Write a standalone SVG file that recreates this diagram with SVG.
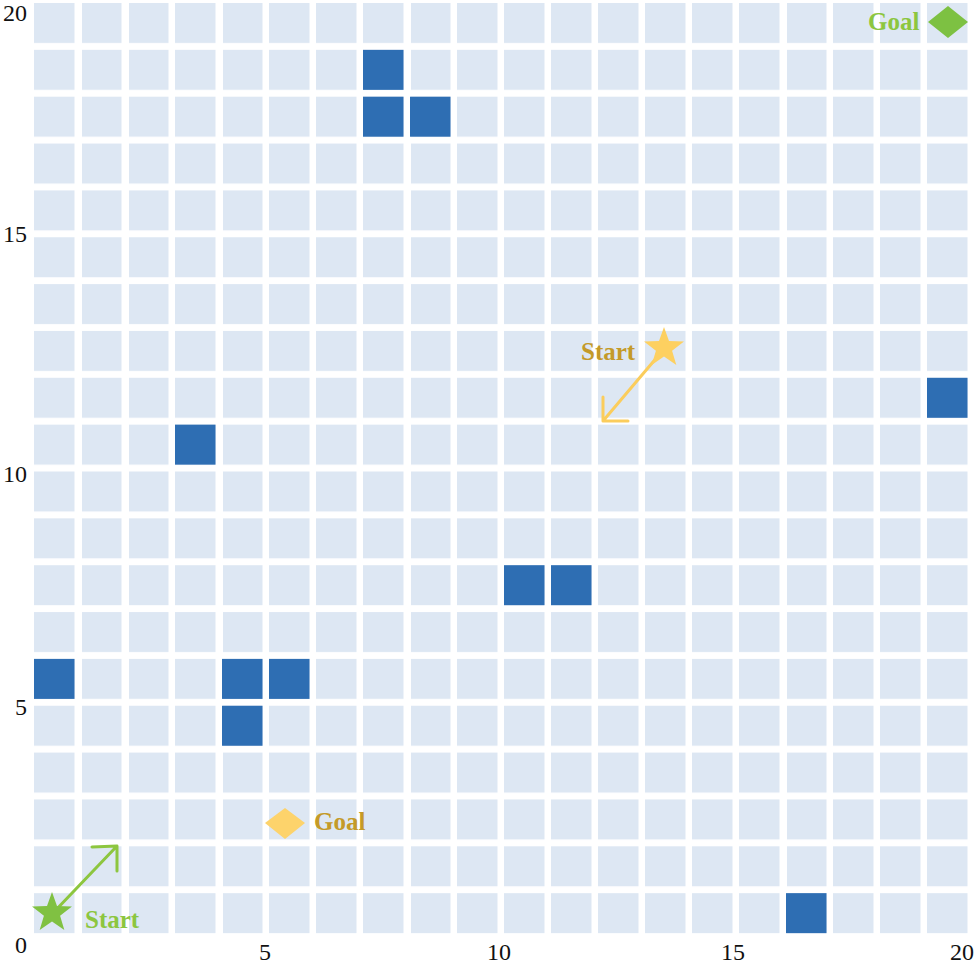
<svg xmlns="http://www.w3.org/2000/svg" xmlns:xlink="http://www.w3.org/1999/xlink" width="980" height="965" viewBox="0 0 980 965">
<style>
.axis{font-family:"Liberation Serif","Times New Roman",serif;font-size:24px;fill:#111}
.lbl{font-family:"Liberation Serif","Times New Roman",serif;font-size:25px;font-weight:bold}
.obs{fill:#2e6eb3}
.garrow{stroke:#8dc63f;stroke-width:3;fill:none;stroke-linecap:round;stroke-linejoin:round}
.yarrow{stroke:#fbcd5c;stroke-width:3;fill:none;stroke-linecap:round;stroke-linejoin:round}
</style>
<defs>
<pattern id="grid" patternUnits="userSpaceOnUse" x="34" y="3" width="47" height="46.85">
<rect x="0" y="0" width="40.5" height="40" fill="#dde7f3"/>
</pattern>
<path id="star" d="M0,-21 L5,-6.88 L19.97,-6.49 L8.08,2.63 L12.34,16.99 L0,8.5 L-12.34,16.99 L-8.08,2.63 L-19.97,-6.49 L-5,-6.88 Z"/>
</defs>
<rect x="0" y="0" width="980" height="965" fill="#ffffff"/>
<g id="grid-cells">
<rect x="34" y="3" width="940" height="937" fill="url(#grid)"/>
</g>
<g id="obstacles">
<rect class="obs" x="363" y="49.85" width="40.5" height="40"/>
<rect class="obs" x="363" y="96.7" width="40.5" height="40"/>
<rect class="obs" x="410" y="96.7" width="40.5" height="40"/>
<rect class="obs" x="927" y="377.8" width="40.5" height="40"/>
<rect class="obs" x="175" y="424.65" width="40.5" height="40"/>
<rect class="obs" x="504" y="565.2" width="40.5" height="40"/>
<rect class="obs" x="551" y="565.2" width="40.5" height="40"/>
<rect class="obs" x="34" y="658.9" width="40.5" height="40"/>
<rect class="obs" x="222" y="658.9" width="40.5" height="40"/>
<rect class="obs" x="269" y="658.9" width="40.5" height="40"/>
<rect class="obs" x="222" y="705.75" width="40.5" height="40"/>
<rect class="obs" x="786" y="893.15" width="40.5" height="40"/>
</g>
<g id="axes">
<text class="axis" x="27" y="21" text-anchor="end">20</text>
<text class="axis" x="27" y="242" text-anchor="end">15</text>
<text class="axis" x="27" y="482" text-anchor="end">10</text>
<text class="axis" x="27" y="715" text-anchor="end">5</text>
<text class="axis" x="27" y="953" text-anchor="end">0</text>
<text class="axis" x="265" y="960" text-anchor="middle">5</text>
<text class="axis" x="499" y="960" text-anchor="middle">10</text>
<text class="axis" x="733" y="960" text-anchor="middle">15</text>
<text class="axis" x="962" y="960" text-anchor="middle">20</text>
</g>
<g id="connectors">
<path class="garrow" d="M52,914 L117,846 M92,847 L117,846 L117,871"/>
<path class="yarrow" d="M664,349 L603,421 M603,397 L603,421 L628,421"/>
</g>
<g id="green-start">
<use xlink:href="#star" href="#star" x="52" y="913" fill="#80c142"/>
<text class="lbl" x="85" y="928" fill="#8cc63f">Start</text>
</g>
<g id="green-goal">
<polygon points="928,22 948,6 968,22 948,38" fill="#7dc142"/>
<text class="lbl" x="868" y="30" fill="#8cc63f">Goal</text>
</g>
<g id="yellow-start">
<use xlink:href="#star" href="#star" x="664" y="348" fill="#fdd060"/>
<text class="lbl" x="581" y="360" fill="#c49a28">Start</text>
</g>
<g id="yellow-goal">
<polygon points="265,823 285,808 305,823 285,839" fill="#fdd36b"/>
<text class="lbl" x="314" y="830" fill="#c49a28">Goal</text>
</g>
</svg>
